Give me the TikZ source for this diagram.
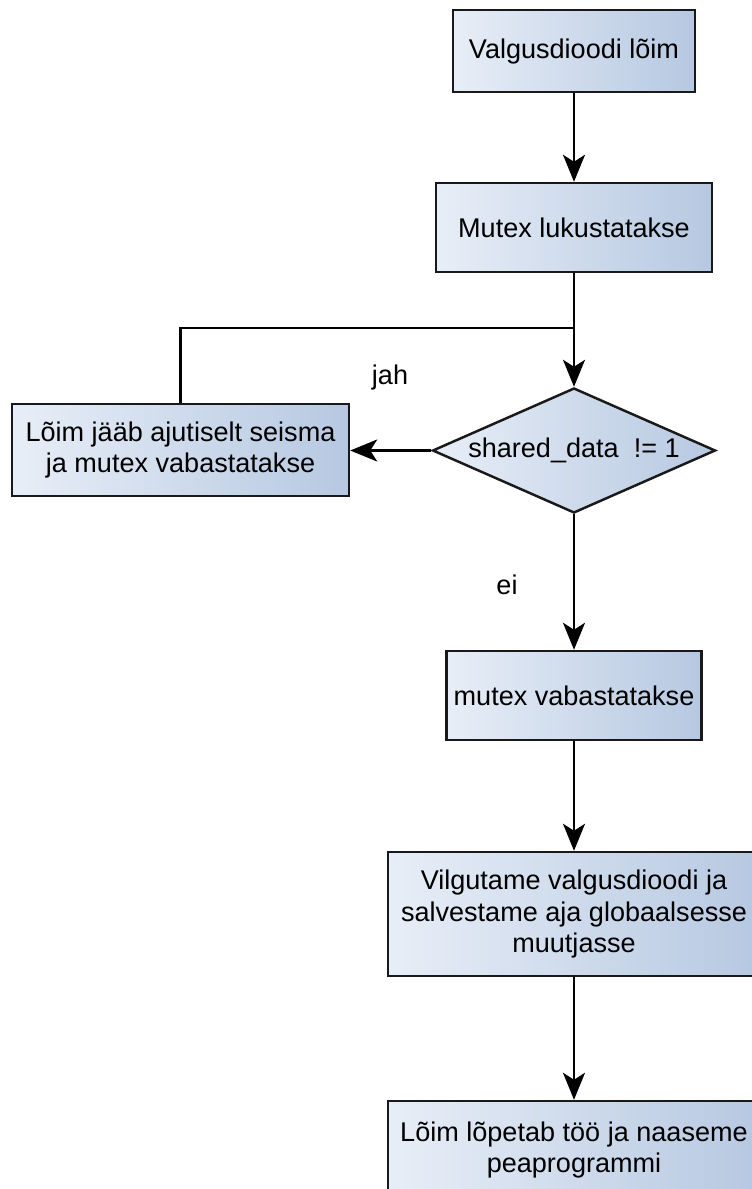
\documentclass[tikz,border=0pt]{standalone}
\usepackage{fontspec}
\setmainfont{Liberation Sans}
\usetikzlibrary{arrows.meta,shapes.geometric}
\definecolor{fillleft}{HTML}{E8EEF7}
\definecolor{fillright}{HTML}{B6C8E1}

\begin{document}
\begin{tikzpicture}[
  font=\fontsize{15.4}{17.8}\selectfont,
  stepbox/.style={draw=black!90,line width=1.4pt,left color=fillleft,right color=fillright,align=center,inner sep=0pt},
  decision/.style={diamond,draw=black!90,line width=1.4pt,left color=fillleft,right color=fillright,inner sep=0pt},
  flow/.style={line width=1.4pt,-{Stealth[length=0.54cm,width=0.44cm,inset=0.14cm]}},
  ]
\useasboundingbox (0.000,0.000) rectangle (15.040,-23.780);
\node[stepbox,minimum width=4.84cm,minimum height=1.64cm] (start) at (11.480,-1.020) {Valgusdioodi lõim};
\node[stepbox,minimum width=5.52cm,minimum height=1.78cm] (lock) at (11.480,-4.550) {Mutex lukustatakse};
\node[decision,minimum width=5.66cm,minimum height=2.50cm,label=center:{shared\_data~~!= 1}] (check) at (11.480,-9.010) {};
\node[stepbox,minimum width=6.74cm,minimum height=1.84cm] (wait) at (3.610,-9.000) {Lõim jääb ajutiselt seisma\\ja mutex vabastatakse};
\node[stepbox,minimum width=5.10cm,minimum height=1.78cm] (unlock) at (11.480,-13.910) {mutex vabastatakse};
\node[stepbox,minimum width=7.44cm,minimum height=2.48cm] (blink) at (11.480,-18.280) {Vilgutame valgusdioodi ja\\salvestame aja globaalsesse\\muutjasse};
\node[stepbox,minimum width=7.44cm,minimum height=1.96cm] (finish) at (11.480,-23.000) {Lõim lõpetab töö ja naaseme\\peaprogrammi};
\node (yes) at (7.800,-7.540) {jah};
\node (no) at (10.140,-11.700) {ei};
\coordinate (loop) at (11.480,-6.560);
\draw[flow] (start) -- (lock);
\draw[flow] (lock) -- (check);
\draw[line width=1.4pt] (wait.north) |- (loop);
\draw[flow] (check.west) -- (wait.east |- check.west);
\draw[flow] (check) -- (unlock);
\draw[flow] (unlock) -- (blink);
\draw[flow] (blink) -- (finish);
\end{tikzpicture}
\end{document}
